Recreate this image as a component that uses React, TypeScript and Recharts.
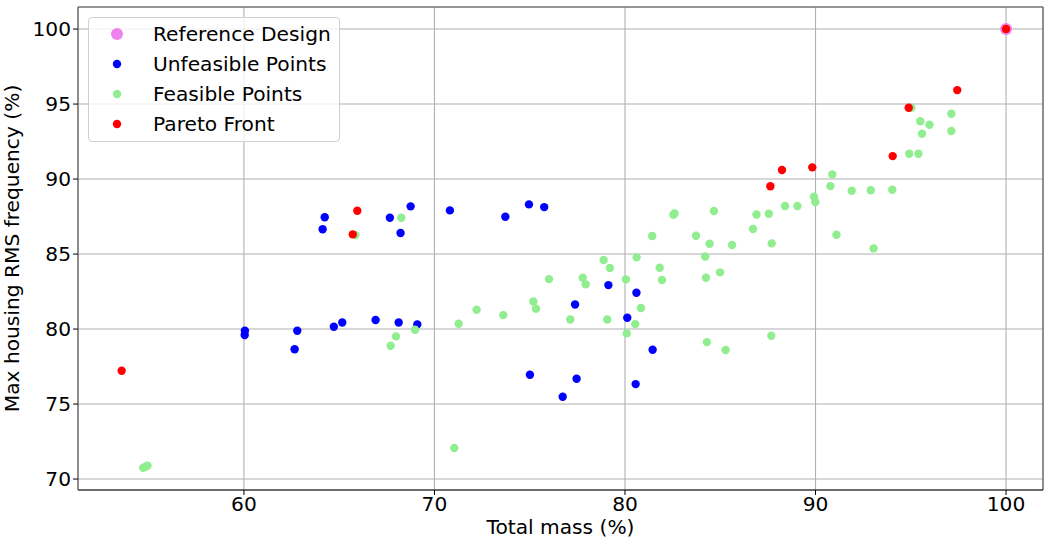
import React from "react";
import {
  ScatterChart,
  Scatter,
  XAxis,
  YAxis,
  CartesianGrid,
  ReferenceLine,
} from "recharts";

type Pt = { x: number; y: number };

const referenceDesign: Pt[] = [{ x: 100, y: 100 }];

const unfeasiblePoints: Pt[] = [
  { x: 64.24, y: 87.45 },
  { x: 67.66, y: 87.42 },
  { x: 68.75, y: 88.18 },
  { x: 70.81, y: 87.91 },
  { x: 64.13, y: 86.65 },
  { x: 68.22, y: 86.4 },
  { x: 60.05, y: 79.89 },
  { x: 60.04, y: 79.6 },
  { x: 62.8, y: 79.89 },
  { x: 62.66, y: 78.65 },
  { x: 64.72, y: 80.15 },
  { x: 65.16, y: 80.44 },
  { x: 66.91, y: 80.6 },
  { x: 68.12, y: 80.44 },
  { x: 69.1, y: 80.31 },
  { x: 73.72, y: 87.49 },
  { x: 74.96, y: 88.31 },
  { x: 75.76, y: 88.13 },
  { x: 79.13, y: 82.93 },
  { x: 80.6, y: 82.42 },
  { x: 77.38, y: 81.64 },
  { x: 80.12, y: 80.75 },
  { x: 81.45, y: 78.62 },
  { x: 75.01, y: 76.95 },
  { x: 77.46, y: 76.69 },
  { x: 80.56, y: 76.33 },
  { x: 76.73, y: 75.49 },
];

const feasiblePoints: Pt[] = [
  { x: 68.26, y: 87.42 },
  { x: 65.85, y: 86.27 },
  { x: 67.98, y: 79.51 },
  { x: 67.7, y: 78.89 },
  { x: 68.98, y: 79.95 },
  { x: 82.54, y: 87.62 },
  { x: 82.6, y: 87.71 },
  { x: 84.67, y: 87.87 },
  { x: 86.9, y: 87.64 },
  { x: 87.55, y: 87.69 },
  { x: 81.43, y: 86.2 },
  { x: 83.73, y: 86.22 },
  { x: 86.72, y: 86.67 },
  { x: 84.44, y: 85.69 },
  { x: 85.62, y: 85.6 },
  { x: 87.7, y: 85.71 },
  { x: 78.88, y: 84.6 },
  { x: 80.61, y: 84.78 },
  { x: 84.21, y: 84.84 },
  { x: 79.21, y: 84.07 },
  { x: 81.82, y: 84.09 },
  { x: 84.99, y: 83.78 },
  { x: 76.01, y: 83.33 },
  { x: 77.78, y: 83.42 },
  { x: 77.94, y: 82.98 },
  { x: 80.05, y: 83.31 },
  { x: 81.94, y: 83.27 },
  { x: 84.25, y: 83.42 },
  { x: 75.19, y: 81.84 },
  { x: 75.33, y: 81.35 },
  { x: 80.84, y: 81.4 },
  { x: 72.21, y: 81.29 },
  { x: 73.61, y: 80.93 },
  { x: 71.27, y: 80.35 },
  { x: 77.13, y: 80.64 },
  { x: 79.07, y: 80.64 },
  { x: 80.54, y: 80.33 },
  { x: 80.09, y: 79.71 },
  { x: 84.3, y: 79.13 },
  { x: 85.28, y: 78.6 },
  { x: 87.68, y: 79.55 },
  { x: 88.4, y: 88.2 },
  { x: 89.05, y: 88.2 },
  { x: 95.03, y: 94.75 },
  { x: 97.13, y: 94.35 },
  { x: 95.5, y: 93.85 },
  { x: 95.98, y: 93.62 },
  { x: 95.59, y: 93.02 },
  { x: 97.13, y: 93.2 },
  { x: 94.92, y: 91.69 },
  { x: 95.4, y: 91.69 },
  { x: 90.88, y: 90.31 },
  { x: 90.78, y: 89.53 },
  { x: 91.9, y: 89.22 },
  { x: 92.9, y: 89.25 },
  { x: 94.03, y: 89.29 },
  { x: 89.92, y: 88.82 },
  { x: 89.99, y: 88.47 },
  { x: 91.1, y: 86.29 },
  { x: 93.05, y: 85.38 },
  { x: 54.71, y: 70.75 },
  { x: 54.83, y: 70.82 },
  { x: 54.94, y: 70.89 },
  { x: 71.04, y: 72.07 },
];

const paretoFront: Pt[] = [
  { x: 53.58, y: 77.22 },
  { x: 65.71, y: 86.31 },
  { x: 65.95, y: 87.89 },
  { x: 87.63, y: 89.52 },
  { x: 88.24, y: 90.6 },
  { x: 89.83, y: 90.78 },
  { x: 94.05, y: 91.53 },
  { x: 94.89, y: 94.75 },
  { x: 97.44, y: 95.93 },
  { x: 100, y: 100 },
];

const xTicks = [60, 70, 80, 90, 100];
const yTicks = [70, 75, 80, 85, 90, 95, 100];

const X_DOMAIN: [number, number] = [51.29, 101.94];
const Y_DOMAIN: [number, number] = [69.27, 101.47];

const FONT = "'DejaVu Sans', sans-serif";
const FS = 20.2;

const dot = (r: number, fill: string) => (p: any) =>
  <circle cx={p.cx} cy={p.cy} r={r} fill={fill} />;

const legendItems = [
  { label: "Reference Design", color: "#ee82ee", r: 6 },
  { label: "Unfeasible Points", color: "#0000ff", r: 4.2 },
  { label: "Feasible Points", color: "#90ee90", r: 4.2 },
  { label: "Pareto Front", color: "#ff0000", r: 4.2 },
];

const LegendBox = () => (
  <div
    style={{
      position: "absolute",
      left: 88,
      top: 17,
      width: 250,
      height: 123,
      border: "1px solid #d0d0d0",
      borderRadius: 4,
      background: "rgba(255,255,255,0.8)",
      fontFamily: FONT,
      fontSize: FS,
      color: "#000",
    }}
  >
    {legendItems.map((it, i) => (
      <div
        key={it.label}
        style={{
          position: "absolute",
          left: 0,
          top: 16 + i * 30 - 15,
          height: 30,
          display: "flex",
          alignItems: "center",
          whiteSpace: "nowrap",
        }}
      >
        <svg width={64} height={30} style={{ display: "block" }}>
          <circle cx={28} cy={15} r={it.r} fill={it.color} />
        </svg>
        <span style={{ lineHeight: "30px" }}>{it.label}</span>
      </div>
    ))}
  </div>
);

export default function App() {
  return (
    <div
      style={{
        position: "absolute",
        left: 0,
        top: 0,
        width: 1044,
        height: 542,
        background: "#fff",
      }}
    >
      <ScatterChart
        width={1044}
        height={542}
        margin={{ top: 7, right: 1, bottom: 0, left: 0 }}
      >
        <CartesianGrid stroke="#b0b0b0" strokeWidth={1.1} />
        <XAxis
          type="number"
          dataKey="x"
          domain={X_DOMAIN}
          ticks={xTicks}
          allowDataOverflow
          height={52}
          tickSize={5}
          tickMargin={2}
          stroke="#000"
          tick={{ fill: "#000", fontFamily: FONT, fontSize: FS }}
          axisLine={{ stroke: "#000", strokeWidth: 1.1 }}
          tickLine={{ stroke: "#000" }}
          label={{
            value: "Total mass (%)",
            position: "insideBottom",
            offset: 8,
            fill: "#000",
            fontFamily: FONT,
            fontSize: FS,
          }}
        />
        <YAxis
          type="number"
          dataKey="y"
          domain={Y_DOMAIN}
          ticks={yTicks}
          allowDataOverflow
          width={78}
          tickSize={5}
          tickMargin={2}
          tick={{ fill: "#000", fontFamily: FONT, fontSize: FS }}
          axisLine={{ stroke: "#555", strokeWidth: 1.1 }}
          tickLine={{ stroke: "#000" }}
          label={{
            value: "Max housing RMS frequency (%)",
            angle: -90,
            position: "insideLeft",
            offset: 12,
            style: { textAnchor: "middle" },
            fill: "#000",
            fontFamily: FONT,
            fontSize: FS,
          }}
        />
        <ReferenceLine y={Y_DOMAIN[1]} stroke="#555" strokeWidth={1.1} />
        <ReferenceLine x={X_DOMAIN[1]} stroke="#555" strokeWidth={1.1} />
        <Scatter
          name="Reference Design"
          data={referenceDesign}
          fill="#ee82ee"
          shape={dot(6, "#ee82ee")}
          isAnimationActive={false}
        />
        <Scatter
          name="Unfeasible Points"
          data={unfeasiblePoints}
          fill="#0000ff"
          shape={dot(4.2, "#0000ff")}
          isAnimationActive={false}
        />
        <Scatter
          name="Feasible Points"
          data={feasiblePoints}
          fill="#90ee90"
          shape={dot(4.2, "#90ee90")}
          isAnimationActive={false}
        />
        <Scatter
          name="Pareto Front"
          data={paretoFront}
          fill="#ff0000"
          shape={dot(4.2, "#ff0000")}
          isAnimationActive={false}
        />
      </ScatterChart>
      <LegendBox />
    </div>
  );
}
